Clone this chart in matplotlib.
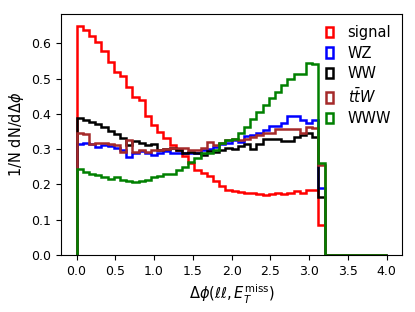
import numpy as np
import matplotlib
matplotlib.use("Agg")
import matplotlib.pyplot as plt

bin_edges = np.linspace(0.0, 4.0, 51)

signal = [0.651, 0.637, 0.620, 0.603, 0.578, 0.548, 0.519, 0.507, 0.477, 0.448,
          0.439, 0.394, 0.368, 0.350, 0.331, 0.312, 0.297, 0.280, 0.260, 0.241,
          0.233, 0.224, 0.210, 0.195, 0.184, 0.181, 0.179, 0.177, 0.175, 0.173,
          0.170, 0.172, 0.175, 0.172, 0.175, 0.181, 0.177, 0.184, 0.184, 0.085] + [0.0] * 10
wz = [0.316, 0.318, 0.314, 0.307, 0.312, 0.310, 0.302, 0.297, 0.278, 0.288,
      0.294, 0.288, 0.283, 0.290, 0.295, 0.288, 0.288, 0.288, 0.288, 0.288,
      0.297, 0.300, 0.307, 0.314, 0.318, 0.326, 0.321, 0.337, 0.340, 0.345,
      0.354, 0.365, 0.365, 0.373, 0.394, 0.394, 0.384, 0.373, 0.382, 0.189] + [0.0] * 10
ww = [0.388, 0.384, 0.378, 0.372, 0.364, 0.352, 0.343, 0.333, 0.313, 0.324,
      0.318, 0.313, 0.314, 0.297, 0.300, 0.304, 0.298, 0.288, 0.291, 0.288,
      0.283, 0.295, 0.293, 0.297, 0.302, 0.300, 0.310, 0.316, 0.300, 0.316,
      0.328, 0.328, 0.330, 0.324, 0.324, 0.335, 0.340, 0.345, 0.335, 0.163] + [0.0] * 10
ttw = [0.347, 0.343, 0.316, 0.318, 0.318, 0.314, 0.312, 0.293, 0.326, 0.293,
       0.297, 0.293, 0.299, 0.297, 0.300, 0.302, 0.302, 0.302, 0.297, 0.297,
       0.302, 0.321, 0.312, 0.318, 0.326, 0.330, 0.326, 0.330, 0.335, 0.340,
       0.345, 0.345, 0.356, 0.356, 0.356, 0.356, 0.347, 0.363, 0.360, 0.255] + [0.0] * 10
www = [0.245, 0.236, 0.231, 0.227, 0.222, 0.214, 0.222, 0.212, 0.209, 0.208,
       0.210, 0.212, 0.220, 0.225, 0.229, 0.231, 0.241, 0.250, 0.264, 0.275,
       0.288, 0.290, 0.297, 0.317, 0.326, 0.330, 0.345, 0.363, 0.385, 0.406,
       0.425, 0.444, 0.463, 0.482, 0.500, 0.513, 0.513, 0.545, 0.541, 0.262] + [0.0] * 10

labels = ["signal", "WZ", "WW", r"$t\bar{t}W$", "WWW"]
colors = ["red", "blue", "black", "brown", "green"]
series = [signal, wz, ww, ttw, www]

fig = plt.figure(figsize=(4.15, 3.12), dpi=100)
ax = fig.add_axes([0.147, 0.183, 0.822, 0.772])

centers = 0.5 * (bin_edges[:-1] + bin_edges[1:])
for vals, lab, col in zip(series, labels, colors):
    ax.hist(centers, bins=bin_edges, weights=vals, histtype="step",
            color=col, linewidth=1.8, label=lab)

ax.set_xticks(np.arange(0, 4.01, 0.5))
ax.set_yticks(np.arange(0, 0.61, 0.1))
ax.tick_params(labelsize=9)
ax.set_xlabel(r"$\Delta\phi(\ell\ell, E_T^{\rm miss})$", fontsize=10.5)
ax.set_ylabel(r"1/N dN/d$\Delta\phi$", fontsize=10.5)
ax.legend(loc="upper right", frameon=False, fontsize=10.5, handlelength=0.5,
          handletextpad=1.0, labelspacing=0.38, borderaxespad=0.35)

fig.savefig("out.png", dpi=100)
